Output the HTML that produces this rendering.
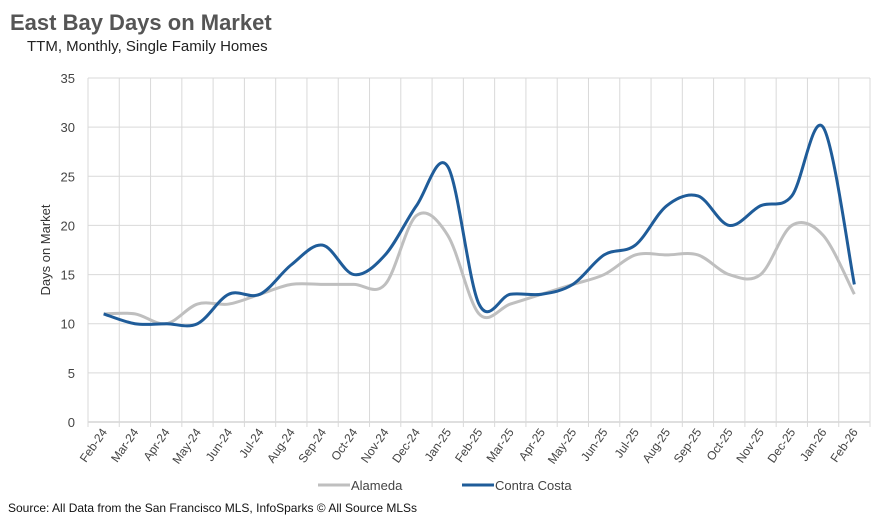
<!DOCTYPE html>
<html><head><meta charset="utf-8"><style>
body{margin:0;background:#fff;}
svg text{font-family:"Liberation Sans",sans-serif;}
</style></head><body>
<svg id="c" width="892" height="518" xmlns="http://www.w3.org/2000/svg">
<rect width="892" height="518" fill="#fff"/>
<text x="10" y="30" font-size="22" font-weight="bold" fill="#555">East Bay Days on Market</text>
<text x="27" y="51" font-size="15" fill="#222">TTM, Monthly, Single Family Homes</text>
<text transform="translate(50,250) rotate(-90)" text-anchor="middle" font-size="13" fill="#333">Days on Market</text>
<g id="grid"></g><g id="ticks"></g><g id="series"></g>
<g>
<line x1="318" y1="485" x2="350" y2="485" stroke="#bfbfbf" stroke-width="3"/>
<text x="351" y="490" font-size="13" fill="#444">Alameda</text>
<line x1="462" y1="485" x2="494" y2="485" stroke="#1f5c99" stroke-width="3"/>
<text x="495" y="490" font-size="13" fill="#444">Contra Costa</text>
</g>
<text x="8" y="512" font-size="12" fill="#111">Source: All Data from the San Francisco MLS, InfoSparks © All Source MLSs</text>
</svg>
<script>
const categories=["Feb-24","Mar-24","Apr-24","May-24","Jun-24","Jul-24","Aug-24","Sep-24","Oct-24","Nov-24","Dec-24","Jan-25","Feb-25","Mar-25","Apr-25","May-25","Jun-25","Jul-25","Aug-25","Sep-25","Oct-25","Nov-25","Dec-25","Jan-26","Feb-26"];
const alameda=[11,11,10,12,12,13,14,14,14,14,21,19,11,12,13,14,15,17,17,17,15,15,20,19,13];
const contraCosta=[11,10,10,10,13,13,16,18,15,17,22,26,12,13,13,14,17,18,22,23,20,22,23,30,14];
const yTicks=[0,5,10,15,20,25,30,35];
const L=88,R=870,T=78,B=422,ns="http://www.w3.org/2000/svg";
const step=(R-L)/categories.length;
const xs=i=>L+step*(i+0.5);
const ys=v=>B-(v/35)*(B-T);
function mk(t,a,p){const e=document.createElementNS(ns,t);for(const k in a)e.setAttribute(k,a[k]);p.appendChild(e);return e;}
const grid=document.getElementById('grid'),ticks=document.getElementById('ticks'),ser=document.getElementById('series');
yTicks.forEach(v=>{
 const l=mk('line',{x1:L,x2:R,y1:ys(v),y2:ys(v),stroke:v===0?'#bfbfbf':'#d9d9d9','stroke-width':1},grid);
 
 
 const t=mk('text',{x:75,y:ys(v)+5,'text-anchor':'end','font-size':13,fill:'#444'},ticks);
 t.textContent=v;
 
 
});
for(let i=0;i<=categories.length;i++){
 const x=L+step*i;
 const l=mk('line',{x1:x,x2:x,y1:T,y2:B+5,stroke:'#d9d9d9','stroke-width':1},grid);
 
 
}
categories.forEach((c,i)=>{
 const x=xs(i)+4,y=B+10;
 const t=mk('text',{x:x,y:y,'text-anchor':'end','font-size':12,fill:'#444',transform:`rotate(-55 ${x} ${y})`},ticks);
 t.textContent=c;
 
 
});
function path(vals){
 const p=vals.map((v,i)=>[xs(i),ys(v)]);
 let d=`M${p[0][0]},${p[0][1]}`;
 for(let i=0;i<p.length-1;i++){
  const p0=p[i-1]||p[i],p1=p[i],p2=p[i+1],p3=p[i+2]||p2;
  const c1=[p1[0]+(p2[0]-p0[0])/6,p1[1]+(p2[1]-p0[1])/6];
  const c2=[p2[0]-(p3[0]-p1[0])/6,p2[1]-(p3[1]-p1[1])/6];
  d+=` C${c1[0]},${c1[1]} ${c2[0]},${c2[1]} ${p2[0]},${p2[1]}`;
 }
 return d;
}
const a=mk('path',{d:path(alameda),fill:'none',stroke:'#bfbfbf','stroke-width':3},ser);


const cc=mk('path',{d:path(contraCosta),fill:'none',stroke:'#1f5c99','stroke-width':3},ser);


</script>
</body></html>
